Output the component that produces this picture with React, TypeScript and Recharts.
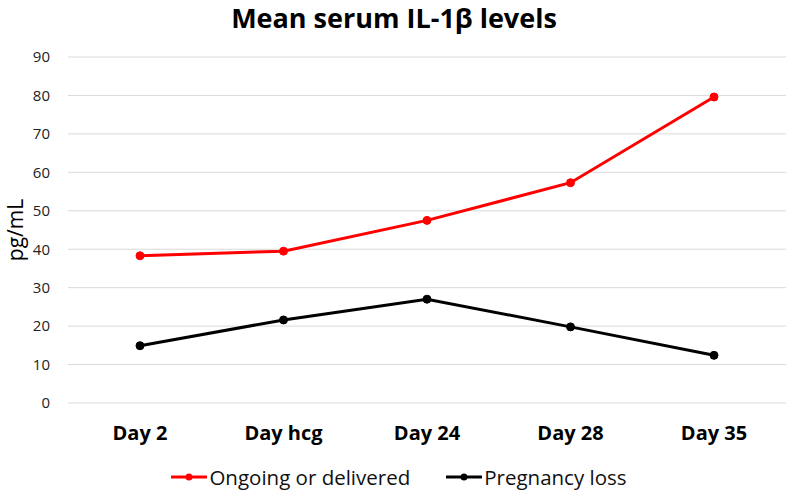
import { LineChart, Line, XAxis, YAxis, CartesianGrid, Legend } from "recharts";

const days = ["Day 2", "Day hcg", "Day 24", "Day 28", "Day 35"];
const ongoing = [38.3, 39.5, 47.5, 57.3, 79.6];
const loss = [14.9, 21.6, 27.0, 19.8, 12.4];
const yTicks = [0, 10, 20, 30, 40, 50, 60, 70, 80, 90];

const data = days.map((day, i) => ({ day, ongoing: ongoing[i], loss: loss[i] }));

const FONT = "'Open Sans', 'Liberation Sans', sans-serif";

function LegendBox() {
  const items = [
    { name: "Ongoing or delivered", color: "#ff0000" },
    { name: "Pregnancy loss", color: "#000000" },
  ];
  return (
    <div style={{ display: "flex", justifyContent: "center", gap: 36, fontFamily: FONT, fontSize: 20.5, color: "#111", paddingLeft: 12 }}>
      {items.map((it) => (
        <div key={it.name} style={{ display: "flex", alignItems: "center" }}>
          <svg width={36} height={10} style={{ marginRight: 2 }}>
            <line x1={0} y1={5} x2={36} y2={5} stroke={it.color} strokeWidth={3} />
            <circle cx={18} cy={5} r={3.5} fill={it.color} />
          </svg>
          <span>{it.name}</span>
        </div>
      ))}
    </div>
  );
}

export default function App() {
  return (
    <div style={{ position: "absolute", left: 0, top: 0, width: 788, height: 497, background: "#fff" }}>
      <div
        style={{
          position: "absolute",
          top: 0,
          left: 0,
          width: 788,
          textAlign: "center",
          fontFamily: FONT,
          fontWeight: 700,
          fontSize: 27,
          lineHeight: "36px",
          color: "#000",
        }}
      >
        Mean serum IL-1β levels
      </div>
      <LineChart width={788} height={497} data={data} margin={{ top: 57, right: 2, left: 0, bottom: 6 }}>
        <CartesianGrid vertical={false} stroke="#d9d9d9" strokeWidth={1} />
        <XAxis
          dataKey="day"
          axisLine={false}
          tickLine={false}
          height={60}
          tickMargin={17}
          padding={{ left: 72, right: 72 }}
          tick={{ fontFamily: FONT, fontWeight: 700, fontSize: 20, fill: "#000" }}
        />
        <YAxis
          domain={[0, 90]}
          ticks={yTicks}
          axisLine={false}
          tickLine={false}
          width={68}
          tickMargin={12}
          tick={{ fontFamily: FONT, fontSize: 15, fill: "#222" }}
          label={{
            value: "pg/mL",
            angle: -90,
            position: "insideLeft",
            offset: 16,
            style: { fontFamily: FONT, fontSize: 21, fill: "#000", textAnchor: "middle" },
          }}
        />
        <Legend verticalAlign="bottom" content={() => <LegendBox />} />
        <Line
          type="linear"
          dataKey="ongoing"
          stroke="#ff0000"
          strokeWidth={3}
          dot={{ r: 4, fill: "#ff0000", stroke: "#ff0000", strokeWidth: 1 }}
          isAnimationActive={false}
        />
        <Line
          type="linear"
          dataKey="loss"
          stroke="#000000"
          strokeWidth={3}
          dot={{ r: 4, fill: "#000000", stroke: "#000000", strokeWidth: 1 }}
          isAnimationActive={false}
        />
      </LineChart>
    </div>
  );
}
